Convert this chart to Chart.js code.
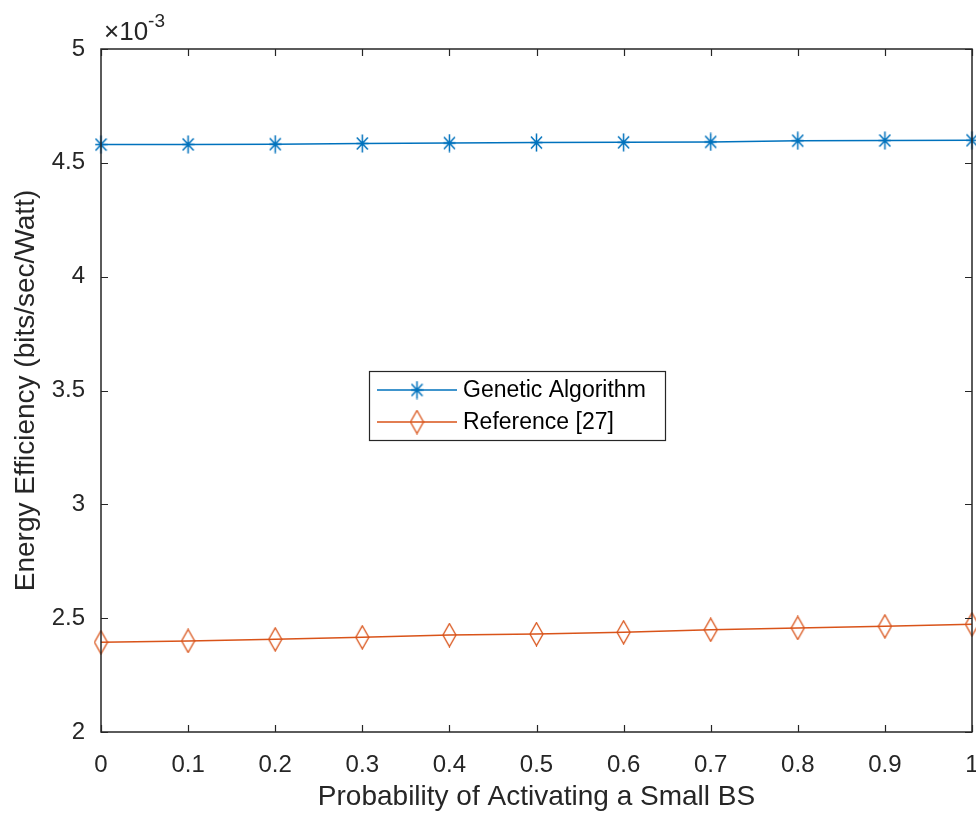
<!DOCTYPE html>
<html>
<head>
<meta charset="utf-8">
<title>Energy Efficiency vs Probability of Activating a Small BS</title>
<script src="https://cdn.jsdelivr.net/npm/chart.js@4.4.1/dist/chart.umd.min.js"></script>
<style>
  html,body{margin:0;padding:0;background:#fff}
  #wrap{width:976px;height:814px}
</style>
</head>
<body>
<div id="wrap"><canvas id="ee-chart" width="976" height="814"></canvas></div>
<script>
/* ── Data (energy efficiency is in units of 1e-3 bits/sec/Watt) ── */
var probVals = [0, 0.1, 0.2, 0.3, 0.4, 0.5, 0.6, 0.7, 0.8, 0.9, 1];
var gaVals   = [4.580, 4.581, 4.582, 4.585, 4.587, 4.589, 4.590, 4.592, 4.597, 4.598, 4.599];
var refVals  = [2.394, 2.400, 2.407, 2.416, 2.426, 2.430, 2.438, 2.449, 2.457, 2.464, 2.473];
var seriesNames = ['Genetic Algorithm', 'Reference [27]'];
var xTicks = [0, 0.1, 0.2, 0.3, 0.4, 0.5, 0.6, 0.7, 0.8, 0.9, 1];
var yTicks = [2, 2.5, 3, 3.5, 4, 4.5, 5];

var BLUE = '#0072BD', ORANGE = '#D95319', AXIS = '#262626';
var FONT = "'Liberation Sans', Arial, sans-serif";

/* ── Marker glyphs (matlab style '*' and 'd') ── */
function makeAsterisk(color){
  var c = document.createElement('canvas');
  c.width = 13; c.height = 19;
  var g = c.getContext('2d');
  g.strokeStyle = color; g.lineWidth = 1.5;
  g.beginPath();
  g.moveTo(6.5, 0.5); g.lineTo(6.5, 18.5);
  g.moveTo(1, 3.5);   g.lineTo(12, 15.5);
  g.moveTo(12, 3.5);  g.lineTo(1, 15.5);
  g.moveTo(0.5, 9.5); g.lineTo(12.5, 9.5);
  g.stroke();
  return c;
}
function makeDiamond(color){
  var c = document.createElement('canvas');
  c.width = 15; c.height = 25;
  var g = c.getContext('2d');
  g.strokeStyle = color; g.lineWidth = 1.3;
  g.beginPath();
  g.moveTo(7.5, 1); g.lineTo(14, 12.5); g.lineTo(7.5, 24); g.lineTo(1, 12.5); g.closePath();
  g.stroke();
  return c;
}
var starMark = makeAsterisk(BLUE);
var diamondMark = makeDiamond(ORANGE);

function toPoints(xs, ys){
  return xs.map(function(x, i){ return {x:x, y:ys[i]}; });
}

/* ── Axes box, inward ticks, exponent and legend (matlab look) ── */
var matlabAxes = {
  id: 'matlabAxes',
  afterDatasetsDraw: function(chart){
    var ctx = chart.ctx, a = chart.chartArea;
    var sx = chart.scales.x, sy = chart.scales.y;
    ctx.save();
    ctx.strokeStyle = AXIS; ctx.lineWidth = 1.5;
    ctx.strokeRect(a.left, a.top, a.right - a.left, a.bottom - a.top);
    ctx.lineWidth = 1.2;
    ctx.beginPath();
    xTicks.forEach(function(v){
      var px = Math.round(sx.getPixelForValue(v)) + 0.5;
      ctx.moveTo(px, a.bottom); ctx.lineTo(px, a.bottom - 7);
      ctx.moveTo(px, a.top);    ctx.lineTo(px, a.top + 7);
    });
    yTicks.forEach(function(v){
      var py = Math.round(sy.getPixelForValue(v)) + 0.5;
      ctx.moveTo(a.left, py);  ctx.lineTo(a.left + 7, py);
      ctx.moveTo(a.right, py); ctx.lineTo(a.right - 7, py);
    });
    ctx.stroke();

    // exponent label
    ctx.fillStyle = AXIS;
    ctx.textBaseline = 'alphabetic'; ctx.textAlign = 'left';
    ctx.font = '26px ' + FONT;
    ctx.fillText('\u00d710', a.left + 3, a.top - 9);
    var w = ctx.measureText('\u00d710').width;
    ctx.font = '19px ' + FONT;
    ctx.fillText('-3', a.left + 3 + w, a.top - 22);

    // legend
    var box = {x:369, y:371, w:296, h:69};
    ctx.fillStyle = '#fff';
    ctx.fillRect(box.x, box.y, box.w, box.h);
    ctx.strokeStyle = AXIS; ctx.lineWidth = 1.2;
    ctx.strokeRect(box.x + 0.5, box.y + 0.5, box.w, box.h);
    ctx.font = '23px ' + FONT;
    ctx.textBaseline = 'middle';
    chart.data.datasets.forEach(function(ds, i){
      var ly = box.y + 19 + i * 32;
      ctx.strokeStyle = ds.borderColor; ctx.lineWidth = 1.5;
      ctx.beginPath(); ctx.moveTo(box.x + 8, ly); ctx.lineTo(box.x + 88, ly); ctx.stroke();
      var m = ds.pointStyle;
      ctx.drawImage(m, box.x + 48 - m.width / 2, ly - m.height / 2);
      ctx.fillStyle = '#000';
      ctx.fillText(ds.label, box.x + 94, ly + 1);
    });
    ctx.restore();
  }
};

var ctx = document.getElementById('ee-chart');
var eeChart = new Chart(ctx, {
  type: 'line',
  data: {
    datasets: [
      {label: seriesNames[0], data: toPoints(probVals, gaVals), borderColor: BLUE, backgroundColor: BLUE,
       borderWidth: 1.5, pointStyle: starMark, pointRadius: 8, clip: false, tension: 0},
      {label: seriesNames[1], data: toPoints(probVals, refVals), borderColor: ORANGE, backgroundColor: ORANGE,
       borderWidth: 1.5, pointStyle: diamondMark, pointRadius: 8, clip: false, tension: 0}
    ]
  },
  options: {
    responsive: false, animation: false, devicePixelRatio: 1,
    layout: {autoPadding: false, padding: {top: 49, right: 4, left: 0, bottom: 0}},
    plugins: {legend: {display: false}, tooltip: {enabled: false}},
    scales: {
      x: {
        type: 'linear', min: 0, max: 1,
        grid: {display: false}, border: {display: false},
        afterBuildTicks: function(s){ s.ticks = xTicks.map(function(v){ return {value:v}; }); },
        afterFit: function(s){ s.height = 82; s.paddingLeft = 0; s.paddingRight = 0; },
        ticks: {color: AXIS, font: {family: FONT, size: 24}, padding: 11, maxRotation: 0, autoSkip: false,
                callback: function(v){ return String(Number(v.toFixed(1))); }},
        title: {display: true, text: 'Probability of Activating a Small BS', color: AXIS,
                font: {family: FONT, size: 28}, padding: {top: 0, bottom: 0}}
      },
      y: {
        type: 'linear', min: 2, max: 5,
        grid: {display: false}, border: {display: false},
        afterBuildTicks: function(s){ s.ticks = yTicks.map(function(v){ return {value:v}; }); },
        afterFit: function(s){ s.width = 101; },
        ticks: {color: AXIS, font: {family: FONT, size: 24}, padding: 8, autoSkip: false,
                callback: function(v){ return String(v); }},
        title: {display: true, text: 'Energy Efficiency (bits/sec/Watt)', color: AXIS,
                font: {family: FONT, size: 28}, padding: {top: 9, bottom: 0}}
      }
    }
  },
  plugins: [matlabAxes]
});
</script>
</body>
</html>
